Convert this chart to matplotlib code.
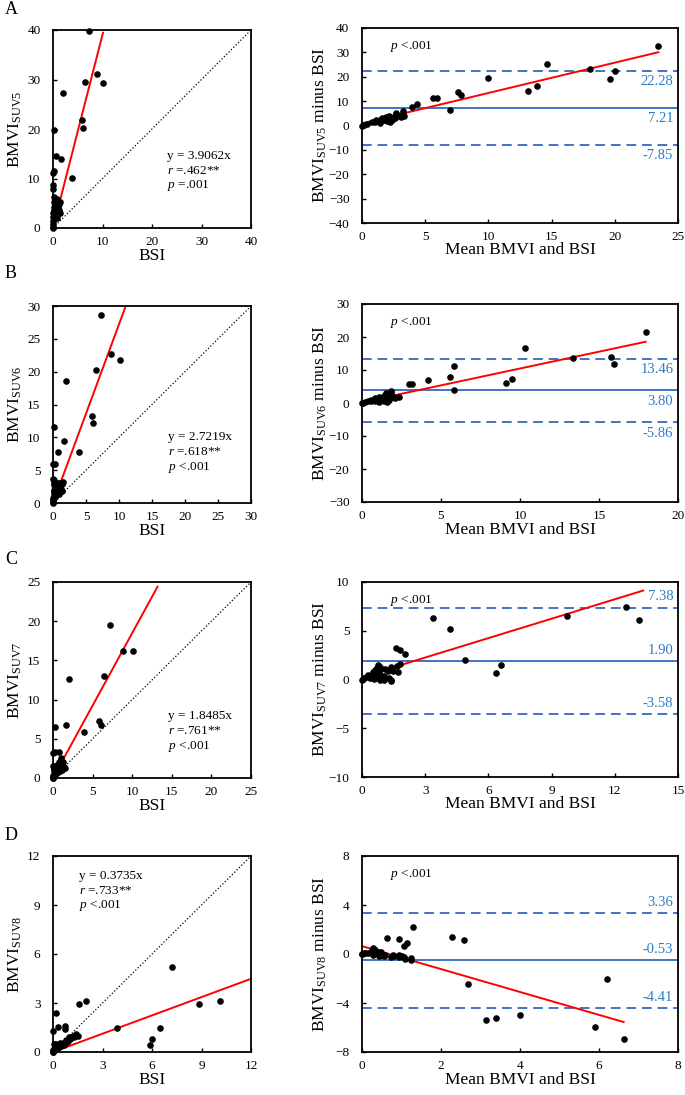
import numpy as np
import matplotlib
matplotlib.use("Agg")
import matplotlib.pyplot as plt

plt.rcParams["font.family"] = ["Liberation Serif", "DejaVu Serif"]
plt.rcParams["mathtext.fontset"] = "custom"
plt.rcParams["mathtext.rm"] = "Liberation Serif"
plt.rcParams["mathtext.it"] = "Liberation Serif:italic"

# BSI per patient (shared by all four panels)
bsi = [7.2, 8.85, 10.1, 6.5, 5.85, 6.0, 2.0, 3.9, 1.6, 0.7, 0.2, 0.0, 0.3, 0.05, 0.1,
       0.0, 0.0, 0.02, 0.05, 0.08, 0.1, 0.12, 0.15, 0.18, 0.2, 0.25, 0.3, 0.35, 0.4,
       0.45, 0.5, 0.55, 0.6, 0.65, 0.75, 0.8, 0.85, 0.9, 0.95, 1.0, 1.05, 1.1, 1.2,
       1.3, 1.4, 1.5]

# BMVI at each SUV threshold, same patient order
bmvi_suv5 = [39.7, 31.2, 29.2, 29.5, 21.9, 20.2, 27.3, 10.1, 14.0, 14.5, 19.7, 11.2, 11.6, 8.7, 7.8,
             0.0, 0.3, 0.8, 1.5, 2.2, 3.0, 4.2, 5.3, 6.3, 3.6, 2.6, 1.8, 5.0, 4.0,
             3.2, 2.4, 4.6, 3.6, 2.8, 5.8, 4.4, 3.4, 2.0, 5.0, 3.9, 4.2, 2.8, 3.6,
             4.8, 3.0, 5.2]
bmvi_suv6 = [28.7, 22.7, 21.8, 20.2, 13.2, 12.2, 18.6, 7.8, 9.5, 7.7, 11.5, 5.9, 6.0, 3.6, 3.0,
             0.0, 0.1, 0.4, 0.7, 1.0, 1.5, 2.0, 2.7, 3.5, 1.8, 1.3, 0.9, 2.4, 2.2,
             1.6, 1.2, 2.6, 2.0, 1.6, 3.0, 2.5, 2.0, 1.3, 2.8, 2.4, 3.0, 1.7, 2.2,
             2.9, 1.8, 3.2]
bmvi_suv7 = [19.5, 16.25, 16.2, 13.0, 7.3, 6.7, 12.6, 5.9, 6.75, 3.35, 6.5, 3.25, 3.35, 1.5, 1.3,
             0.0, 0.05, 0.2, 0.3, 0.5, 0.9, 1.1, 1.3, 1.5, 1.0, 0.7, 0.5, 1.4, 1.2,
             0.8, 0.6, 1.6, 1.1, 0.9, 2.0, 1.7, 1.2, 0.85, 2.35, 2.6, 1.9, 1.0, 1.4,
             2.1, 1.4, 1.3]
bmvi_suv8 = [5.2, 2.93, 3.15, 1.5, 0.45, 0.78, 3.15, 1.45, 2.95, 1.58, 2.4, 1.27, 1.56, 0.5, 0.45,
             0.0, 0.02, 0.1, 0.1, 0.2, 0.4, 0.5, 0.5, 0.45, 0.35, 0.3, 0.25, 0.5, 0.55,
             0.4, 0.35, 0.5, 0.55, 0.45, 1.4, 0.75, 0.6, 0.7, 0.9, 0.85, 0.8, 0.9, 0.95,
             0.9, 1.1, 1.0]

letters = ["A", "B", "C", "D"]
suv_names = ["SUV5", "SUV6", "SUV7", "SUV8"]
slopes = [3.9062, 2.7219, 1.8485, 0.3735]
r_values = [".462**", ".618**", ".761**", ".733**"]
p_values = ["=.001", "<.001", "<.001", "<.001"]
sc_max = [40, 30, 25, 12]
sc_step = [10, 5, 5, 3]
fit_x_end = [10.1, 11.5, 13.2, 12.0]

ba_mean = [7.21, 3.80, 1.90, -0.53]
ba_upper = [22.28, 13.46, 7.38, 3.36]
ba_lower = [-7.85, -5.86, -3.58, -4.41]
ba_fit_b0 = [0.9, 0.25, 0.26, 0.64]
ba_fit_b1 = [1.244, 1.02, 0.664, -0.935]
ba_xmax = [25, 20, 15, 8]
ba_xstep = [5, 5, 3, 2]
ba_ymax = [40, 30, 10, 8]
ba_ystep = [10, 10, 5, 4]

W, H = 685, 1095
left_rows = [(30, 228), (306, 503), (582, 778), (856, 1052)]
right_rows = [(28, 223), (304, 502), (582, 777), (856, 1052)]
letter_y = [10, 273, 559, 836]
ann_pos = [(0.576, 0.364), (0.58, 0.335), (0.58, 0.316), (0.13, 0.898)]
label_above = [False, False, True, True]

BLUE = "#4472C4"
BLUE_TXT = "#2E7BC4"

fig = plt.figure(figsize=(W / 100, H / 100), dpi=100)

bsi_arr = np.array(bsi)
all_bmvi = [bmvi_suv5, bmvi_suv6, bmvi_suv7, bmvi_suv8]


def style(ax):
    for s in ax.spines.values():
        s.set_linewidth(1.3)
    ax.tick_params(direction="in", length=3, width=1, labelsize=9.5)
    ax.tick_params(axis="y", pad=9)
    ax.tick_params(axis="x", pad=6)


for i in range(4):
    y = np.array(all_bmvi[i])

    # scatter panel
    t, b = left_rows[i]
    ax = fig.add_axes([53 / W, 1 - b / H, 198 / W, (b - t) / H])
    m = sc_max[i]
    ax.plot([0, m], [0, m], ":", color="black", lw=0.9)
    xs = np.array([0, fit_x_end[i]])
    ax.plot(xs, slopes[i] * xs, color="red", lw=1.4)
    ax.scatter(bsi_arr, y, s=14, color="black", zorder=3, clip_on=False)
    ax.set_xlim(0, m)
    ax.set_ylim(0, m)
    ax.set_xticks(np.arange(0, m + 0.1, sc_step[i]))
    ax.set_yticks(np.arange(0, m + 0.1, sc_step[i]))
    style(ax)
    ax.set_xlabel("BSI", fontsize=12.5)
    ax.set_ylabel(f"BMVI$_{{\\mathrm{{{suv_names[i]}}}}}$", fontsize=12.5)
    ax.xaxis.set_label_coords(0.5, -0.1)
    ax.yaxis.set_label_coords(-0.19, 0.5)
    ax.xaxis.label.set_va("top")
    ax.yaxis.label.set_va("center")
    ax_, ay_ = ann_pos[i]
    dy = 15 / (b - t)
    ax.text(ax_, ay_, f"y = {slopes[i]:.4f}x", transform=ax.transAxes, fontsize=9.5, va="center")
    ax.text(ax_, ay_ - dy, f"$r$ ={r_values[i]}", transform=ax.transAxes, fontsize=9.5, va="center")
    ax.text(ax_, ay_ - 2 * dy, f"$p$ {p_values[i]}", transform=ax.transAxes, fontsize=9.5, va="center")

    fig.text(5 / W, 1 - letter_y[i] / H, letters[i], fontsize=13, va="center", ha="left")

    # Bland-Altman panel
    t, b = right_rows[i]
    bx = fig.add_axes([362 / W, 1 - b / H, 316 / W, (b - t) / H])
    mean_vals = (bsi_arr + y) / 2
    diff_vals = y - bsi_arr
    bx.axhline(ba_mean[i], color=BLUE, lw=1.4)
    bx.axhline(ba_upper[i], color=BLUE, lw=1.4, ls=(0, (5, 3)))
    bx.axhline(ba_lower[i], color=BLUE, lw=1.4, ls=(0, (5, 3)))
    fx = np.array([mean_vals.min(), mean_vals.max()])
    bx.plot(fx, ba_fit_b0[i] + ba_fit_b1[i] * fx, color="red", lw=1.4)
    inside = np.abs(diff_vals) <= ba_ymax[i]
    bx.scatter(mean_vals[inside], diff_vals[inside], s=14, color="black", zorder=3, clip_on=False)
    bx.set_xlim(0, ba_xmax[i])
    bx.set_ylim(-ba_ymax[i], ba_ymax[i])
    bx.set_xticks(np.arange(0, ba_xmax[i] + 0.1, ba_xstep[i]))
    bx.set_yticks(np.arange(-ba_ymax[i], ba_ymax[i] + 0.1, ba_ystep[i]))
    style(bx)
    bx.set_xlabel("Mean BMVI and BSI", fontsize=12.5)
    bx.set_ylabel(f"BMVI$_{{\\mathrm{{{suv_names[i]}}}}}$ minus BSI", fontsize=12.5)
    bx.xaxis.set_label_coords(0.5, -0.1)
    bx.yaxis.set_label_coords(-0.133, 0.5)
    bx.xaxis.label.set_va("top")
    bx.yaxis.label.set_va("center")
    bx.text(0.09, 0.905, "$p$ <.001", transform=bx.transAxes, fontsize=9.5, va="center")
    for val in (ba_upper[i], ba_mean[i], ba_lower[i]):
        off = 3 if label_above[i] else -3
        bx.annotate(f"{val:.2f}", xy=(0.985, val), xycoords=("axes fraction", "data"),
                    xytext=(0, off), textcoords="offset points", ha="right",
                    va="bottom" if label_above[i] else "top", fontsize=10.5, color=BLUE_TXT)

fig.savefig("out.png", dpi=100)
